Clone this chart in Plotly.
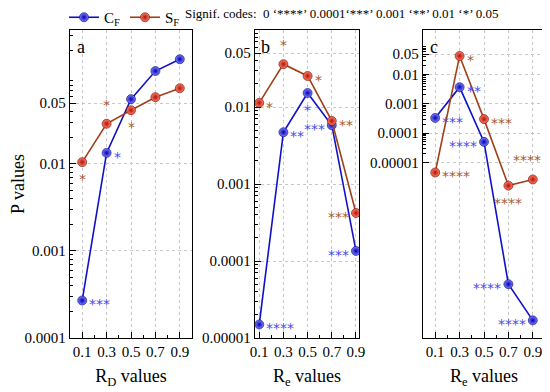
import plotly.graph_objects as go
import numpy as np

x_vals = [0.1, 0.3, 0.5, 0.7, 0.9]

# Panel a (R_D)
a_cf = [0.00027, 0.0134, 0.0556, 0.117, 0.160]
a_sf = [0.0105, 0.029, 0.0415, 0.0586, 0.0743]
a_cf_sig = ["***", "*", "", "", ""]
a_sf_sig = ["*", "*", "*", "", ""]

# Panel b (R_e)
b_cf = [0.000015, 0.0047, 0.0152, 0.0058, 0.000135]
b_sf = [0.0113, 0.036, 0.0253, 0.0066, 0.00042]
b_cf_sig = ["****", "**", "*", "***", "***"]
b_sf_sig = ["*", "*", "*", "**", "***"]

# Panel c (R_e)
c_cf = [0.00033, 0.0037, 0.00005, 6.9e-10, 4e-11]
c_sf = [4.5e-6, 0.043, 0.0003, 1.6e-6, 2.6e-6]
c_cf_sig = ["***", "**", "****", "****", "****"]
c_sf_sig = ["****", "*", "***", "****", "****"]

panel_letters = ["a", "b", "c"]
x_titles = ["R<sub>D</sub> values", "R<sub>e</sub> values", "R<sub>e</sub> values"]
y_ticks = [[0.0001, 0.001, 0.01, 0.05],
           [0.00001, 0.0001, 0.001, 0.01, 0.05],
           [0.00001, 0.0001, 0.001, 0.01, 0.05]]
y_ticktext = [["0.0001", "0.001", "0.01", "0.05"],
              ["0.00001", "0.0001", "0.001", "0.01", "0.05"],
              ["0.00001", "0.0001", "0.001", "0.01", "0.05"]]

# ---- styling / layout ----
OFF = 8                     # page body margin
W, H = 550 - OFF, 392 - OFF  # figure size


def px_x(p):
    return (p - OFF) / W


def px_y(p):
    return 1 - (p - OFF) / H


FONT = "Liberation Serif"
CF_LINE = "#1010c8"
SF_LINE = "#a0401a"
CF_STAR = "#4a4af0"
SF_STAR = "#a85a30"
xdomains = [(px_x(70), px_x(192)), (px_x(255), px_x(359)), (px_x(423), px_x(545))]
ydomain = (px_y(338), px_y(30))
xranges = [(0, 1.0), (0.065, 0.925), (0, 1.0)]
yranges = [(-4, -0.46), (-5, -1), (-11, -0.48)]
minor_decades = [range(-4, 0), range(-5, -1), range(-5, -1)]

# placements: (xshift, yshift, xanchor, yanchor)
place = {
    "r": (5, -4, "left", "middle"),
    "l": (-5, -4, "right", "middle"),
    "a": (0, 9, "center", "bottom"),
    "al": (10, 9, "right", "bottom"),
    "b": (0, -7, "center", "top"),
}
a_cf_pos = ["r", "r", "r", "r", "r"]
a_sf_pos = ["b", "a", "b", "r", "r"]
b_cf_pos = ["r", "r", "b", "l", "l"]
b_sf_pos = ["r", "a", "r", "r", "l"]
c_cf_pos = ["r", "r", "l", "l", "l"]
c_sf_pos = ["r", "r", "r", "b", "al"]

panels = [
    (a_cf, a_sf, a_cf_sig, a_sf_sig, a_cf_pos, a_sf_pos),
    (b_cf, b_sf, b_cf_sig, b_sf_sig, b_cf_pos, b_sf_pos),
    (c_cf, c_sf, c_cf_sig, c_sf_sig, c_cf_pos, c_sf_pos),
]

fig = go.Figure()
annotations = []

for i, (cf, sf, cfs, sfs, cfp, sfp) in enumerate(panels):
    sfx = "" if i == 0 else str(i + 1)
    xa, ya = "x" + sfx, "y" + sfx
    fig.add_trace(go.Scatter(
        x=x_vals, y=cf, mode="lines+markers", name="C<sub>F</sub>",
        line=dict(color=CF_LINE, width=1.6),
        marker=dict(size=9, color="#8080ff", gradient=dict(type="radial", color="#0000b0"),
                    line=dict(color="#000080", width=0.6)),
        xaxis=xa, yaxis=ya, showlegend=(i == 0), legendrank=1))
    fig.add_trace(go.Scatter(
        x=x_vals, y=sf, mode="lines+markers", name="S<sub>F</sub>",
        line=dict(color=SF_LINE, width=1.6),
        marker=dict(size=9, color="#ff8060", gradient=dict(type="radial", color="#b01010"),
                    line=dict(color="#700000", width=0.6)),
        xaxis=xa, yaxis=ya, showlegend=(i == 0), legendrank=2))
    for vals, sigs, poss, col in [(cf, cfs, cfp, CF_STAR), (sf, sfs, sfp, SF_STAR)]:
        for xv, yv, s, p in zip(x_vals, vals, sigs, poss):
            if not s:
                continue
            xs, ys, xan, yan = place[p]
            annotations.append(dict(
                x=xv, y=np.log10(yv), xref=xa, yref=ya, text=s, showarrow=False,
                xshift=xs, yshift=ys, xanchor=xan, yanchor=yan,
                font=dict(family="DejaVu Sans", size=14, color=col)))
    annotations.append(dict(
        x=0.04, y=0.985, xref=xa + " domain", yref=ya + " domain", text=panel_letters[i],
        showarrow=False, xanchor="left", yanchor="top",
        font=dict(family=FONT, size=18, color="black")))
    minor_vals = [m * 10 ** d for d in minor_decades[i] for m in range(2, 10)]
    fig.update_layout(**{
        ("xaxis" + sfx): dict(
            domain=xdomains[i], range=xranges[i], tickvals=x_vals,
            ticktext=[str(v) for v in x_vals], ticks="inside", ticklen=6, tickcolor="black",
            showline=True, linecolor="black", linewidth=1.3, mirror=True,
            showgrid=True, gridcolor="#c8c8c8", griddash="dot", gridwidth=1,
            zeroline=False, anchor=ya,
            tickfont=dict(family=FONT, size=15, color="black"),
            minor=dict(tickvals=[0.2, 0.4, 0.6, 0.8], ticks="inside", ticklen=3,
                       tickcolor="black", showgrid=False),
            title=dict(text=x_titles[i], font=dict(family=FONT, size=18, color="black"),
                       standoff=10)),
        ("yaxis" + sfx): dict(
            domain=ydomain, type="log", range=yranges[i], tickvals=y_ticks[i],
            ticktext=y_ticktext[i], ticks="inside", ticklen=6, tickcolor="black",
            showline=True, linecolor="black", linewidth=1.3, mirror=True,
            showgrid=True, gridcolor="#c8c8c8", griddash="dot", gridwidth=1,
            zeroline=False, anchor=xa,
            tickfont=dict(family=FONT, size=15, color="black"),
            minor=dict(tickvals=minor_vals, ticks="inside", ticklen=3,
                       tickcolor="black", showgrid=False)),
    })

fig.update_layout(yaxis_title=dict(text="P values", font=dict(family=FONT, size=18, color="black"),
                                   standoff=6))

annotations.append(dict(
    x=px_x(183), y=px_y(13), xref="paper", yref="paper", showarrow=False,
    xanchor="left", yanchor="middle",
    text="Signif. codes:  0 \u2018****\u2019 0.0001\u2018***\u2019 0.001 \u2018**\u2019 0.01 \u2018*\u2019 0.05",
    font=dict(family=FONT, size=13, color="black")))

fig.update_layout(
    width=W, height=H, autosize=False,
    font=dict(family=FONT, size=14, color="black"),
    margin=dict(l=0, r=0, t=0, b=0, autoexpand=False),
    paper_bgcolor="white", plot_bgcolor="white",
    showlegend=True,
    legend=dict(orientation="h", x=px_x(64), y=px_y(1), xanchor="left", yanchor="top",
                font=dict(family=FONT, size=15, color="black"),
                itemwidth=30, tracegroupgap=0, bgcolor="rgba(0,0,0,0)"),
    annotations=annotations,
)

fig.write_html("out.html")
